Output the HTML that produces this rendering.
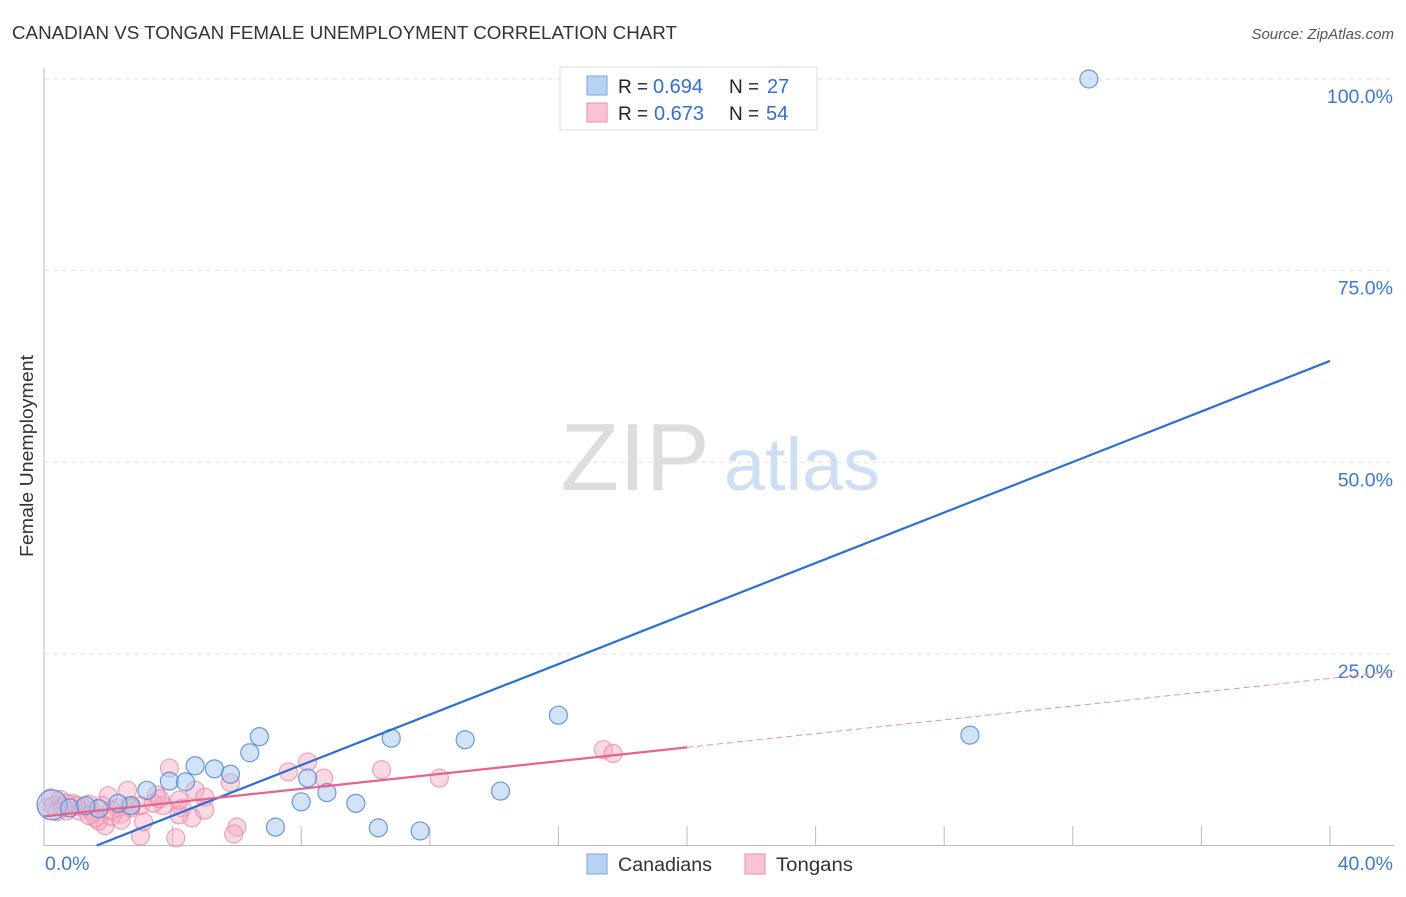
<!DOCTYPE html>
<html><head><meta charset="utf-8"><style>
body{margin:0;background:#fff;font-family:"Liberation Sans",sans-serif;}
svg text{font-family:"Liberation Sans",sans-serif;}
</style></head><body>
<svg id="chart" width="1406" height="892" xmlns="http://www.w3.org/2000/svg">
<text x="12" y="39" font-size="18" fill="#333" textLength="665" lengthAdjust="spacingAndGlyphs">CANADIAN VS TONGAN FEMALE UNEMPLOYMENT CORRELATION CHART</text>
<text x="1394" y="39" font-size="15" fill="#555" font-style="italic" text-anchor="end">Source: ZipAtlas.com</text>
<text x="33" y="456" font-size="18" fill="#333" text-anchor="middle" textLength="202" lengthAdjust="spacingAndGlyphs" transform="rotate(-90 33 456)">Female Unemployment</text>
<g>
<text x="635" y="490" font-size="96" fill="#ddd" font-family="Liberation Serif" text-anchor="middle">ZIP</text>
<text x="802" y="490" font-size="74" fill="#cfdff3" text-anchor="middle">atlas</text>
</g>
<g id="grid"></g><g id="axes"></g><g id="pts"></g><g id="lines"></g>
<g>
<rect x="560" y="67" width="257" height="63" fill="#fff" stroke="#ddd"/>
<rect x="587" y="76" width="20" height="19" fill="#b8d2f4" stroke="#7aa6e0"/>
<rect x="587" y="103" width="20" height="19" fill="#f9c3d3" stroke="#ea8fab"/>
<text x="618" y="93" font-size="19" fill="#222">R =</text>
<text x="653" y="93" font-size="20" fill="#2f6fd6">0.694</text>
<text x="729" y="93" font-size="19" fill="#222">N =</text>
<text x="767" y="93" font-size="20" fill="#2f6fd6">27</text>
<text x="618" y="120" font-size="19" fill="#222">R =</text>
<text x="654" y="120" font-size="20" fill="#2f6fd6">0.673</text>
<text x="729" y="120" font-size="19" fill="#222">N =</text>
<text x="766" y="120" font-size="20" fill="#2f6fd6">54</text>
</g>
<g>
<rect x="587" y="854" width="20" height="20" fill="#b8d2f4" stroke="#7aa6e0"/>
<text x="618" y="871" font-size="19" fill="#333" textLength="94" lengthAdjust="spacingAndGlyphs">Canadians</text>
<rect x="745" y="854" width="20" height="20" fill="#f9c3d3" stroke="#ea8fab"/>
<text x="776" y="871" font-size="19" fill="#333" textLength="77" lengthAdjust="spacingAndGlyphs">Tongans</text>
</g>
</svg>
<script>
const yTicks=[25,50,75,100];
const yTickLabels=["25.0%","50.0%","75.0%","100.0%"];
const blueX=[32.5,28.8,16.0,13.1,10.8,14.2,6.7,6.4,4.7,3.9,4.4,5.3,5.8,3.2,8.2,8.8,8.0,9.7,7.2,10.4,11.7,0.25,2.7,1.7,0.8,2.3,1.3];
const blueY=[100,14.4,17.0,13.8,14.0,7.1,14.2,12.1,10.4,8.4,8.3,10.0,9.3,7.2,8.8,6.9,5.7,5.5,2.4,2.3,1.9,5.3,5.2,4.8,4.9,5.5,5.2];
const pinkX=[17.4,17.7,12.3,10.5,8.2,8.7,7.6,3.9,4.7,5.8,5.0,3.5,2.6,2.0,3.7,4.3,4.6,4.2,6.0,5.9,4.1,3.0,3.1,1.9,1.7,2.4,2.7,2.3,1.4,0.9,0.5,0.2,0.3,0.7,1.1,1.5,2.1,1.6,1.2,1.0,0.1,0.6,3.0,3.4,2.7,1.8,2.1,0.7,5.0,0.4,1.4,2.4,3.6,4.2];
const pinkY=[12.5,12.0,8.8,9.9,10.9,8.8,9.6,10.1,7.2,8.2,6.3,6.6,7.2,6.5,5.2,4.9,3.6,4.0,2.4,1.5,1.0,1.2,3.1,2.6,3.2,4.1,5.2,4.9,5.4,5.5,6.0,6.2,5.2,4.5,4.5,4.4,3.8,3.6,5.0,5.2,4.9,5.0,5.2,5.5,4.9,5.2,4.6,5.5,4.6,4.4,3.9,3.3,6.1,5.9];
const blueFit=[-2.7,1.648];
const pinkFit=[3.8,0.45];
const NS="http://www.w3.org/2000/svg";
const X0=44,X1=1330,Y0=845.5,Y1=79;
const sx=v=>X0+(X1-X0)*v/40, sy=v=>Y0-(Y0-Y1)*v/100;
function mk(t,a,p){const e=document.createElementNS(NS,t);for(const k in a)e.setAttribute(k,a[k]);p.appendChild(e);return e;}
const grid=document.getElementById('grid'),axes=document.getElementById('axes'),pts=document.getElementById('pts'),lines=document.getElementById('lines');
yTicks.forEach((t,i)=>{
 const g=mk('line',{x1:X0,x2:1394,y1:sy(t),y2:sy(t),stroke:'#e2e2e2','stroke-dasharray':'5,4'},grid);
 
 
 const tx=mk('text',{x:1393,y:sy(t)+24,'font-size':19.5,fill:'#3b78d8','text-anchor':'end'},grid);
 tx.textContent=yTickLabels[i];
 
 
});
let a=mk('line',{x1:X0,x2:X0,y1:68,y2:Y0,stroke:'#bbb'},axes);


a=mk('line',{x1:X0,x2:1394,y1:Y0,y2:Y0,stroke:'#bbb'},axes);


for(let v=4;v<=40;v+=4){const t=mk('line',{x1:sx(v),x2:sx(v),y1:826,y2:Y0,stroke:'#bbb'},axes);
 
 }
let l=mk('text',{x:45,y:870,'font-size':19.5,fill:'#3b78d8'},axes);l.textContent='0.0%';


l=mk('text',{x:1393,y:870,'font-size':19.5,fill:'#3b78d8','text-anchor':'end'},axes);l.textContent='40.0%';


pinkX.forEach((x,i)=>{const c=mk('circle',{cx:sx(x),cy:sy(pinkY[i]),r:9,fill:'rgba(246,170,193,0.45)',stroke:'rgba(234,130,162,0.7)','stroke-width':1.2},pts);
 
 });
blueX.forEach((x,i)=>{const c=mk('circle',{cx:sx(x),cy:sy(blueY[i]),r:i===21?15:9,fill:'rgba(165,199,240,0.5)',stroke:'rgba(70,130,215,0.8)','stroke-width':1.2},pts);
 
 });
const bx0=-blueFit[0]/blueFit[1];
let ln=mk('line',{x1:sx(bx0),y1:sy(0),x2:sx(40),y2:sy(blueFit[0]+blueFit[1]*40),stroke:'#2a6fd8','stroke-width':2.2},lines);


ln=mk('line',{x1:sx(0),y1:sy(pinkFit[0]),x2:sx(20),y2:sy(pinkFit[0]+pinkFit[1]*20),stroke:'#e8628e','stroke-width':2.2},lines);


ln=mk('line',{x1:sx(20),y1:sy(pinkFit[0]+pinkFit[1]*20),x2:sx(42),y2:sy(pinkFit[0]+pinkFit[1]*42),stroke:'#eb8cab','stroke-width':1,'stroke-dasharray':'6,4'},lines);


</script>
</body></html>
